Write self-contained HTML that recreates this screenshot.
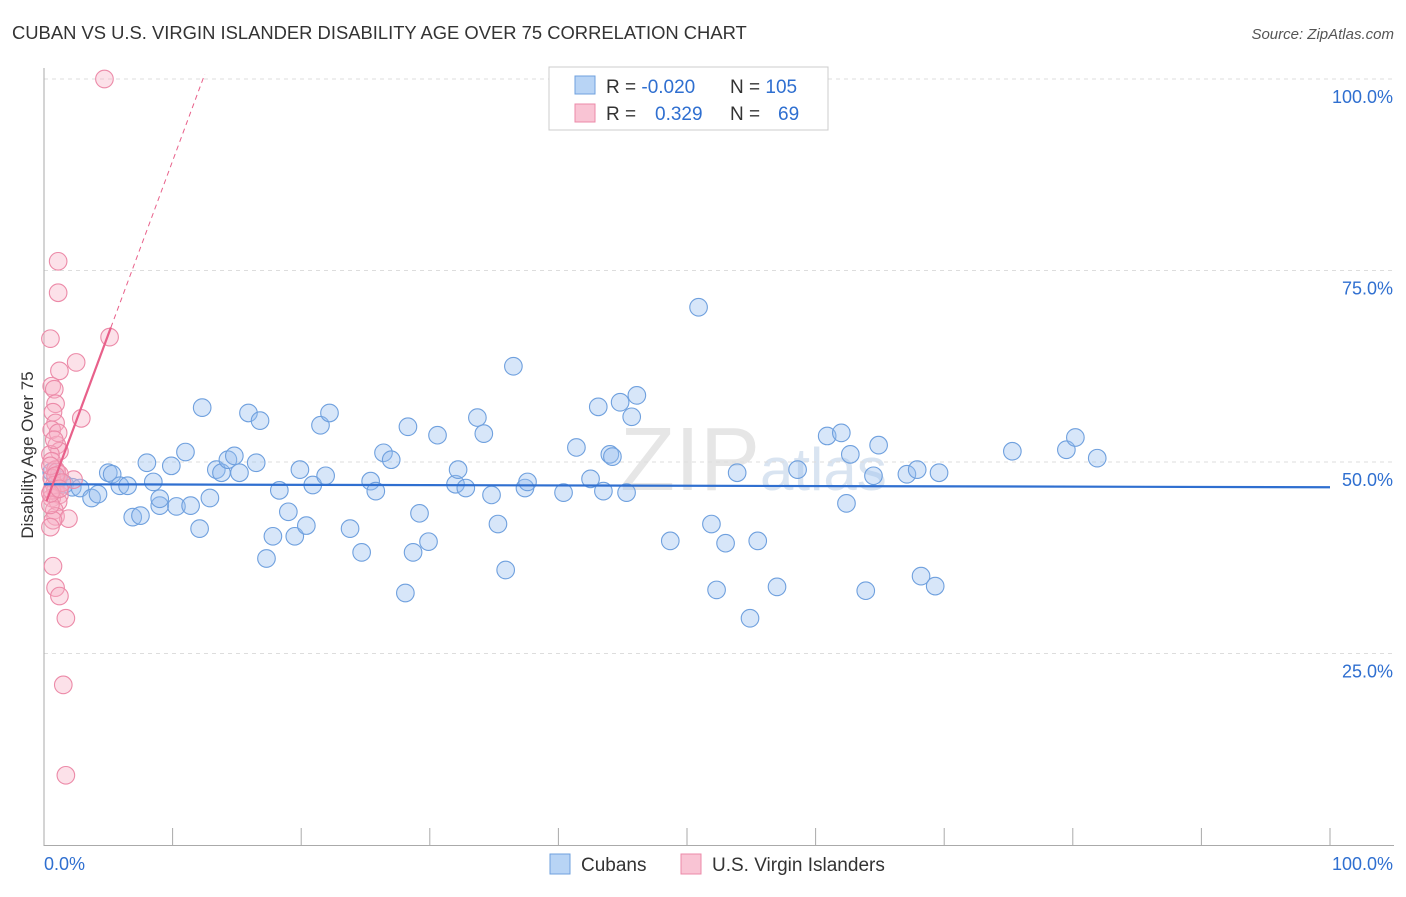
<!DOCTYPE html>
<html><head><meta charset="utf-8"><style>
body{margin:0;background:#fff;font-family:"Liberation Sans",sans-serif;}
svg text{font-family:"Liberation Sans",sans-serif;}
</style></head><body>
<svg id="chart" width="1406" height="892">
<text x="12" y="39" font-size="18.4" fill="#333">CUBAN VS U.S. VIRGIN ISLANDER DISABILITY AGE OVER 75 CORRELATION CHART</text>
<text x="1394" y="39" font-size="15" fill="#555" font-style="italic" text-anchor="end">Source: ZipAtlas.com</text>
<text x="620" y="490" font-size="90" fill="#e6e6e6" font-family="Liberation Serif">ZIP<tspan font-size="60" font-family="Liberation Sans" fill="#d9e4f1">atlas</tspan></text>
<g id="grid"></g><g id="axes"></g><g id="marks"></g>
<text transform="translate(33,455) rotate(-90)" font-size="17" fill="#333" text-anchor="middle">Disability Age Over 75</text>
<g>
<rect x="549" y="67" width="279" height="63" fill="#fff" stroke="#ccc"/>
<rect x="575" y="76" width="20" height="18" fill="#b8d4f5" stroke="#6fa0de"/>
<rect x="575" y="104" width="20" height="18" fill="#f9c4d4" stroke="#ec8aa8"/>
<text x="606" y="93" font-size="19" fill="#333">R = <tspan fill="#2f6fd0">-0.020</tspan><tspan x="730">N = </tspan><tspan fill="#2f6fd0">105</tspan></text>
<text x="606" y="120" font-size="19" fill="#333">R = <tspan x="655" fill="#2f6fd0">0.329</tspan><tspan x="730">N = </tspan><tspan x="778" fill="#2f6fd0">69</tspan></text>
</g>
<g>
<rect x="550" y="854" width="20" height="20" fill="#b8d4f5" stroke="#6fa0de"/>
<text x="581" y="871" font-size="19" fill="#333">Cubans</text>
<rect x="681" y="854" width="20" height="20" fill="#f9c4d4" stroke="#ec8aa8"/>
<text x="712" y="871" font-size="19" fill="#333">U.S. Virgin Islanders</text>
</g>
</svg>
<script>
const yTicks=[25,50,75,100];
const yTickLabels=["25.0%","50.0%","75.0%","100.0%"];
const xTickLabels=["0.0%","100.0%"];
const cubanX=[0.6,1.1,1.6,2.2,2.8,3.7,4.2,5.0,5.3,5.9,6.5,6.9,7.5,8.0,8.5,9.0,9.0,9.9,10.3,11.0,11.4,12.1,12.3,12.9,13.4,13.8,14.3,14.8,15.2,15.9,16.5,16.8,17.3,17.8,18.3,19.0,19.5,19.9,20.4,20.9,21.5,21.9,22.2,23.8,24.7,25.4,25.8,26.4,27.0,28.1,28.3,28.7,29.2,29.9,30.6,32.0,32.2,32.8,33.7,34.2,34.8,35.3,35.9,36.5,37.4,37.6,40.4,41.4,42.5,43.1,43.5,44.0,44.2,44.8,45.3,45.7,46.1,48.7,50.9,51.9,52.3,53.0,53.9,54.9,55.5,57.0,58.6,60.9,62.0,62.4,62.7,63.9,64.5,64.9,67.1,67.9,68.2,69.3,69.6,75.3,79.5,80.2,81.9];
const cubanY=[48.7,47.7,47.1,46.7,46.6,45.3,45.8,48.6,48.4,46.9,46.9,42.8,43.0,49.9,47.4,44.3,45.2,49.5,44.2,51.3,44.3,41.3,57.1,45.3,49.0,48.6,50.3,50.8,48.6,56.4,49.9,55.4,37.4,40.3,46.3,43.5,40.3,49.0,41.7,47.0,54.8,48.2,56.4,41.3,38.2,47.5,46.2,51.2,50.3,32.9,54.6,38.2,43.3,39.6,53.5,47.1,49.0,46.6,55.8,53.7,45.7,41.9,35.9,62.5,46.6,47.4,46.0,51.9,47.8,57.2,46.2,51.0,50.7,57.8,46.0,55.9,58.7,39.7,70.2,41.9,33.3,39.4,48.6,29.6,39.7,33.7,49.0,53.4,53.8,44.6,51.0,33.2,48.2,52.2,48.4,49.0,35.1,33.8,48.6,51.4,51.6,53.2,50.5,46.0];
const vingX=[4.7,1.1,1.1,0.5,5.1,2.5,1.2,0.6,0.8,0.9,2.9,0.7,0.9,0.6,1.0,1.2,0.5,0.6,0.9,1.0,2.3,1.2,0.6,0.8,0.9,1.2,0.6,1.1,0.8,0.9,1.9,0.7,0.5,0.7,0.9,1.2,1.7,1.5,1.7,0.5,0.6,0.9,1.4,0.5,1.1,0.8,0.5,1.2];
const vingY=[100,76.2,72.1,66.1,66.3,63.0,61.9,59.9,59.5,57.6,55.7,56.5,55.1,54.2,52.2,51.4,51.0,50.1,49.0,48.7,47.7,48.4,47.9,47.0,46.3,45.7,45.3,44.8,43.7,42.9,42.6,42.4,41.5,36.4,33.6,32.5,29.6,20.9,9.1,49.5,46.3,48.2,47.3,44.4,53.8,52.9,45.9,46.5];
const X0=44,X1=1330,Y0=845,Y1=79;
const sx=v=>X0+(X1-X0)*v/100, sy=v=>Y0-(Y0-Y1)*v/100;
const NS="http://www.w3.org/2000/svg";
function mk(t,a,p){const e=document.createElementNS(NS,t);for(const k in a)e.setAttribute(k,a[k]);p.appendChild(e);return e;}
const grid=document.getElementById('grid'),axes=document.getElementById('axes'),marks=document.getElementById('marks');
yTicks.forEach((t,i)=>{
 const l=mk('line',{x1:44,x2:1394,y1:sy(t),y2:sy(t),stroke:'#ddd','stroke-dasharray':'4,4'},grid);
 
 
 const tx=mk('text',{x:1393,y:sy(t)+24,'font-size':18,fill:'#2f6fd0','text-anchor':'end'},grid);
 tx.textContent=yTickLabels[i];
 
 
});
mk('line',{x1:44,x2:44,y1:68,y2:846,stroke:'#aaa'},axes);
mk('line',{x1:44,x2:1394,y1:845.5,y2:845.5,stroke:'#aaa'},axes);
for(let i=0;i<=10;i++){mk('line',{x1:sx(i*10),x2:sx(i*10),y1:828,y2:845,stroke:'#aaa'},axes);}
[[0,'start',44],[1,'end',1393]].forEach(([i,a,x])=>{const t=mk('text',{x:x,y:870,'font-size':18,fill:'#2f6fd0','text-anchor':a},axes);t.textContent=xTickLabels[i];
 
 });
cubanX.forEach((x,i)=>{const c=mk('circle',{cx:sx(x),cy:sy(cubanY[i]),r:8.8,fill:'rgba(150,190,240,0.38)',stroke:'#6fa0de','stroke-width':1.1},marks);
 
 });
vingX.forEach((x,i)=>{const c=mk('circle',{cx:sx(x),cy:sy(vingY[i]),r:8.8,fill:'rgba(246,175,198,0.38)',stroke:'#ec8aa8','stroke-width':1.1},marks);
 
 });
const bl=mk('line',{x1:sx(0),y1:sy(47.1),x2:sx(100),y2:sy(46.7),stroke:'#2f6fd0','stroke-width':2.2},marks);


const pf=x=>44+4.53*x;
const pl=mk('line',{x1:sx(0.2),y1:sy(pf(0.2)),x2:sx(5.2),y2:sy(pf(5.2)),stroke:'#e8608a','stroke-width':2.2},marks);


const pd=mk('line',{x1:sx(5.2),y1:sy(pf(5.2)),x2:sx(12.5),y2:sy(pf(12.5)),stroke:'#e8608a','stroke-width':1,'stroke-dasharray':'5,4'},marks);


</script>
</body></html>
